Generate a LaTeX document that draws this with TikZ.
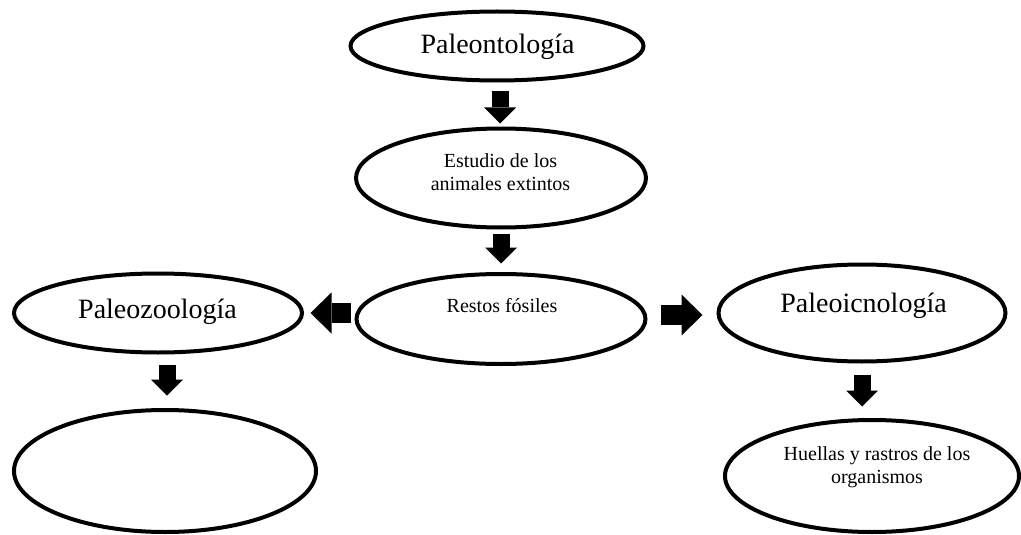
\documentclass[tikz,border=0pt]{standalone}
\usepackage{fontspec}
\setmainfont{Liberation Serif}
\usetikzlibrary{shapes.geometric,arrows.meta}
\begin{document}
\begin{tikzpicture}[x=1pt,y=-1pt,
  oval/.style={draw=black,line width=4pt,ellipse,inner sep=0pt,fill=white},
  bigtxt/.style={font=\fontsize{28}{34}\selectfont,inner sep=0pt,anchor=base},
  smalltxt/.style={font=\fontsize{20}{23}\selectfont,inner sep=0pt,align=center},
  downarrow/.style={line width=17pt,-{Triangle[width=32pt,length=16pt,line width=0pt]}},
  sidearrow/.style={line width=20pt,-{Triangle[width=41pt,length=21pt,line width=0pt]}}]
\useasboundingbox (0,0) rectangle (1021,535);
% ellipses
\node[oval,minimum width=293pt,minimum height=69pt]  (e1) at (497,46)  {};
\node[oval,minimum width=290pt,minimum height=99pt]  (e2) at (501,178) {};
\node[oval,minimum width=289pt,minimum height=90pt]  (e3) at (501,319) {};
\node[oval,minimum width=288pt,minimum height=79pt]  (e4) at (158,313) {};
\node[oval,minimum width=302pt,minimum height=122pt] (e5) at (165,471) {};
\node[oval,minimum width=287pt,minimum height=97pt]  (e6) at (862,313) {};
\node[oval,minimum width=294pt,minimum height=112pt] (e7) at (872,476) {};
% texts
\node[bigtxt] (t1) at (497.5,54) {Paleontología};
\node[smalltxt] (t2) at (500.5,172) {Estudio de los\\animales extintos};
\node[smalltxt,anchor=base] (t3) at (502,312) {Restos fósiles};
\node[bigtxt] (t4) at (157.5,318) {Paleozoología};
\node[bigtxt] (t6) at (863.5,312) {Paleoicnología};
\node[smalltxt] (t7) at (877,467) {Huellas y rastros de los\\organismos};
% arrows
\draw[downarrow,shorten <=9pt,shorten >=3pt] ([xshift=3pt]e1.south) -- ([xshift=-1pt]e2.north);
\draw[downarrow,shorten <=4pt,shorten >=8.5pt] (e2.south) -- (e3.north);
\draw[sidearrow,shorten <=4pt,shorten >=6.5pt] (e3.west |- e4.center) -- (e4.east);
\draw[sidearrow,shorten <=13pt,shorten >=14pt] ([yshift=4pt]e3.east) -- ([yshift=-2pt]e6.west);
\draw[downarrow,shorten <=10pt,shorten >=12.5pt] ([xshift=9pt]e4.south) -- ([xshift=2pt]e5.north);
\draw[downarrow,shorten <=11pt,shorten >=11.5pt] (e6.south) -- ([xshift=-10pt]e7.north);
\end{tikzpicture}
\end{document}
